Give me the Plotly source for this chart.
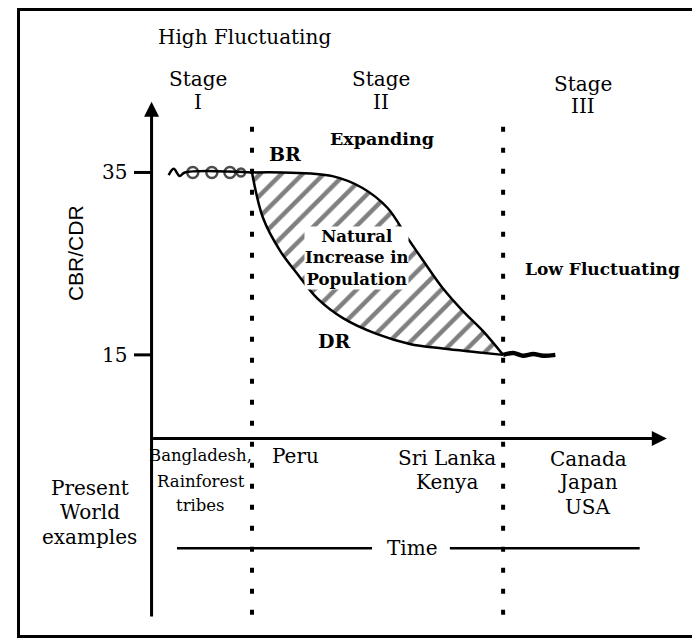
import plotly.graph_objects as go

# ---------------- data (time units on x, CBR/CDR per 1000 on y) ----------------
stage_bounds = [10, 35]
high_level = 35
low_level = 15

br_t = [10, 13, 18, 21, 23.5, 25.5, 27, 29, 31, 33, 35]
br_v = [35, 35, 34.6, 33.3, 31.1, 27.8, 25.4, 22.3, 19.8, 17.6, 15]

dr_t = [10, 11.1, 12.8, 14.5, 16.5, 19.1, 22.4, 25.7, 29.0, 32.4, 35]
dr_v = [35, 30.0, 26.4, 23.9, 21.2, 19.0, 17.3, 16.2, 15.7, 15.3, 15]

stage1_wave_t = [1.7, 2.2, 2.8, 3.3, 10]
stage1_wave_v = [34.7, 35.4, 34.6, 35.0, 35.0]
stage1_loops_t = [4.1, 6.0, 7.8, 8.9]
stage1_loops_v = [35, 35, 35, 35]

stage3_wave_t = [35, 36, 37, 38, 39, 40.2]
stage3_wave_v = [15, 15.2, 14.9, 15.1, 14.9, 15.0]

y_tick_values = [35, 15]
y_tick_labels = ["35", "15"]

stage_names = ["Stage", "Stage", "Stage"]
stage_numbers = ["I", "II", "III"]
examples_stage1 = ["Bangladesh,", "Rainforest", "tribes"]
examples_stage2a = ["Peru"]
examples_stage2b = ["Sri Lanka", "Kenya"]
examples_stage3 = ["Canada", "Japan", "USA"]
examples_title = ["Present", "World", "examples"]

# ---------------- figure ----------------
FONT = "DejaVu Serif"
fig = go.Figure()

# Death rate curve
fig.add_trace(go.Scatter(x=dr_t, y=dr_v, mode="lines",
                         line=dict(color="black", width=2.5, shape="spline", smoothing=1.0)))
# Birth rate curve with hatched natural increase
fig.add_trace(go.Scatter(x=br_t, y=br_v, mode="lines",
                         line=dict(color="black", width=2.5, shape="spline", smoothing=1.0),
                         fill="tonexty", fillcolor="rgba(0,0,0,0)",
                         fillpattern=dict(shape="/", fgcolor="black", bgcolor="rgba(0,0,0,0)",
                                          size=15, solidity=0.3)))

# Stage I fluctuating line
fig.add_trace(go.Scatter(x=stage1_wave_t, y=stage1_wave_v, mode="lines",
                         line=dict(color="black", width=2.5, shape="spline")))
fig.add_trace(go.Scatter(x=stage1_loops_t, y=stage1_loops_v, mode="markers",
                         marker=dict(symbol="circle-open", size=[11, 11, 11, 8], color="black",
                                     line=dict(width=2.5, color="black"))))
# Stage III fluctuating line
fig.add_trace(go.Scatter(x=stage3_wave_t, y=stage3_wave_v, mode="lines",
                         line=dict(color="black", width=4.5, shape="spline")))

# Dotted stage boundaries
for b in stage_bounds:
    fig.add_trace(go.Scatter(x=[b, b], y=[40.0, -13.5], mode="lines",
                             line=dict(color="black", width=4, dash="5px,16px")))

# Y ticks
tx, ty = [], []
for v in y_tick_values:
    tx += [-1.75, 0, None]
    ty += [v, v, None]
fig.add_trace(go.Scatter(x=tx, y=ty, mode="lines", line=dict(color="black", width=3)))

# Time line
fig.add_trace(go.Scatter(x=[2.53, 21.95, None, 29.7, 48.6], y=[-6.2, -6.2, None, -6.2, -6.2],
                         mode="lines", line=dict(color="black", width=2.5)))

anns = []
# Axis arrows
anns.append(dict(x=0, y=42.76, ax=0, ay=-13.85, xref="x", yref="y", axref="x", ayref="y",
                 showarrow=True, arrowhead=2, arrowsize=1, arrowwidth=3, arrowcolor="black",
                 text="", standoff=0, startstandoff=0))
anns.append(dict(x=51.3, y=5.82, ax=0, ay=5.82, xref="x", yref="y", axref="x", ayref="y",
                 showarrow=True, arrowhead=2, arrowsize=1, arrowwidth=3, arrowcolor="black",
                 text="", standoff=0, startstandoff=0))


def txt(text, x, y, size=20, bold=False, family=FONT, **kw):
    d = dict(text=("<b>%s</b>" % text) if bold else text, x=x, y=y, xref="x", yref="y",
             showarrow=False, xanchor="center", yanchor="middle",
             font=dict(family=family, size=size, color="black"))
    d.update(kw)
    anns.append(d)


txt("High Fluctuating", 9.25, 49.86)
stage_x = [4.62, 22.85, 42.97]
stage_y1 = [45.27, 45.27, 44.73]
stage_y2 = [42.76, 42.76, 42.32]
for i in range(3):
    txt(stage_names[i], stage_x[i], stage_y1[i])
    txt(stage_numbers[i], stage_x[i], stage_y2[i])

txt("Expanding", 22.95, 38.72, size=17.5, bold=True)
txt("BR", 13.29, 36.97, size=19, bold=True)
txt("DR", 18.17, 16.53, size=19, bold=True)
txt("Natural<br>Increase in<br>Population", 20.45, 25.6, size=16.5, bold=True,
    bgcolor="white", borderpad=0)
txt("Low Fluctuating", 44.86, 24.4, size=17, bold=True)

for lab, v in zip(y_tick_labels, y_tick_values):
    txt(lab, -3.65, v, size=20)
txt("CBR/CDR", -7.63, 26.15, size=21, family="Liberation Sans", textangle=-90)

for lab, y in zip(examples_stage1, [3.96, 1.12, -1.5]):
    txt(lab, 4.92, y, size=16.5)
for lab, y in zip(examples_stage2a, [3.96]):
    txt(lab, 14.28, y)
for lab, y in zip(examples_stage2b, [3.74, 1.01]):
    txt(lab, 29.42, y)
for lab, y in zip(examples_stage3, [3.63, 1.01, -1.72]):
    txt(lab, 43.47, y)
for lab, y in zip(examples_title, [0.36, -2.27, -5.0]):
    txt(lab, -6.14, y)
txt("Time", 25.94, -6.2)

fig.update_layout(
    width=700, height=644, autosize=False,
    margin=dict(l=12, r=0, t=1, b=17),
    paper_bgcolor="white", plot_bgcolor="white",
    showlegend=False, hovermode=False,
    annotations=anns,
    xaxis=dict(range=[-13.1, 55.4], showgrid=False, zeroline=False, showticklabels=False,
               ticks="", showline=True, mirror=True, linecolor="black", linewidth=3),
    yaxis=dict(range=[-15.71, 52.70], showgrid=False, zeroline=False, showticklabels=False,
               ticks="", showline=True, mirror=False, linecolor="black", linewidth=3),
)

fig.write_html("out.html")
